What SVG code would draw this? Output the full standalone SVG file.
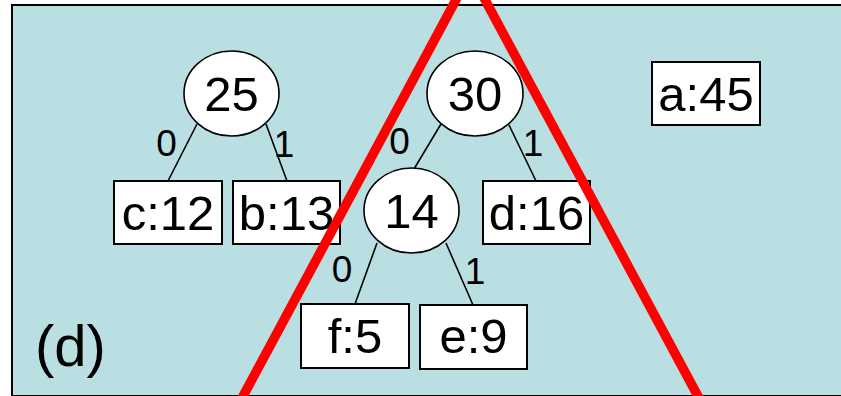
<svg xmlns="http://www.w3.org/2000/svg" width="841" height="396" viewBox="0 0 841 396">
<style>
.nd{fill:#fff;stroke:#000;stroke-width:1.6}
.bx{fill:#fff;stroke:#000;stroke-width:2}
.t{font-family:"Liberation Sans",Arial,sans-serif;font-size:49px;fill:#000;text-anchor:middle}
.lb{font-family:"Liberation Sans",Arial,sans-serif;font-size:37px;fill:#000;text-anchor:middle}
.e{stroke:#000;stroke-width:1.6;fill:none}
.red{stroke:#ff0000;stroke-width:9.5;fill:none}
</style>
<rect x="12" y="5" width="840" height="391" fill="#b9dfe3" stroke="#000" stroke-width="2"/>
<g id="connectors">
<line class="e" x1="197" y1="124" x2="168" y2="181"/>
<line class="e" x1="266" y1="124" x2="287" y2="181"/>
<line class="e" x1="441" y1="124" x2="414" y2="169"/>
<line class="e" x1="509" y1="125" x2="536" y2="181"/>
<line class="e" x1="377" y1="243" x2="355" y2="304"/>
<line class="e" x1="446" y1="243" x2="473" y2="305"/>
<text class="lb" x="166.5" y="156">0</text>
<text class="lb" x="284" y="157">1</text>
<text class="lb" x="399.5" y="154">0</text>
<text class="lb" x="533" y="156">1</text>
<text class="lb" x="342" y="282">0</text>
<text class="lb" x="475" y="284">1</text>
</g>
<g id="n25"><ellipse class="nd" cx="231.5" cy="93.5" rx="47.5" ry="42.5"/><text class="t" x="231.5" y="111">25</text></g>
<g id="n30"><ellipse class="nd" cx="475" cy="93.5" rx="48" ry="42.5"/><text class="t" x="475" y="111">30</text></g>
<g id="n14"><ellipse class="nd" cx="411.5" cy="210.5" rx="47.5" ry="42.5"/><text class="t" x="411.5" y="228">14</text></g>
<g id="c12"><rect class="bx" x="114" y="181" width="108" height="63"/><text class="t" x="168" y="230">c:12</text></g>
<g id="b13"><rect class="bx" x="233" y="181" width="107" height="63"/><text class="t" x="286.5" y="230">b:13</text></g>
<g id="d16"><rect class="bx" x="483" y="181" width="107" height="63"/><text class="t" x="536.5" y="230">d:16</text></g>
<g id="a45"><rect class="bx" x="652" y="62" width="108" height="63"/><text class="t" x="706" y="111">a:45</text></g>
<g id="f5"><rect class="bx" x="301" y="304" width="108" height="64"/><text class="t" x="355" y="353">f:5</text></g>
<g id="e9"><rect class="bx" x="420" y="305" width="107" height="64"/><text class="t" x="473.5" y="353">e:9</text></g>
<text x="35" y="366" font-family="'Liberation Sans',Arial,sans-serif" font-size="58" fill="#000">(d)</text>
<g id="triangle">
<line class="red" x1="458" y1="-4" x2="241" y2="400"/>
<line class="red" x1="483" y1="-4" x2="700" y2="400"/>
</g>
</svg>
